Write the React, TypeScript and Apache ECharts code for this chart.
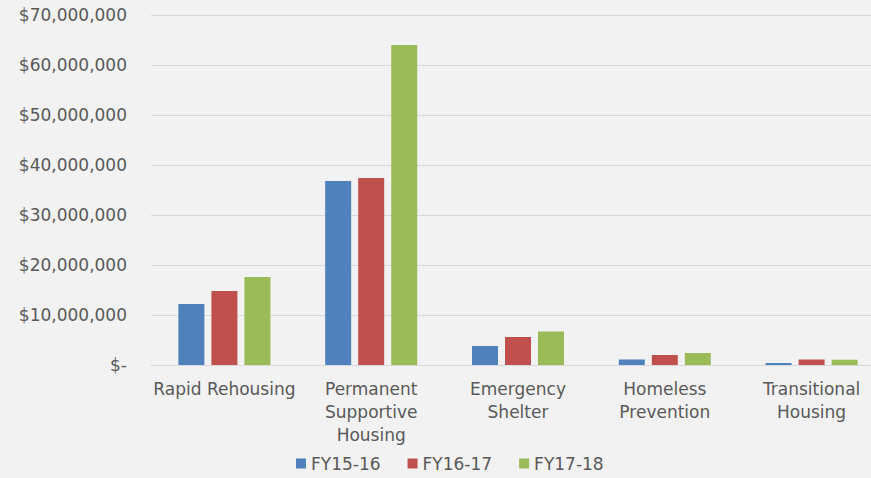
import React, { useEffect, useRef } from "react";
import * as echarts from "echarts";

const categories = [
  "Rapid Rehousing",
  "Permanent\nSupportive\nHousing",
  "Emergency\nShelter",
  "Homeless\nPrevention",
  "Transitional\nHousing",
];
const seriesNames = ["FY15-16", "FY16-17", "FY17-18"];
const fy1516 = [12200000, 36800000, 3800000, 1100000, 400000];
const fy1617 = [14800000, 37400000, 5600000, 2000000, 1100000];
const fy1718 = [17600000, 64000000, 6700000, 2400000, 1050000];
const colors = ["#4f81bd", "#c0504d", "#9bbb59"];

function fmt(v: number): string {
  if (v === 0) return "$-";
  return "$" + v.toLocaleString("en-US");
}

export default function App() {
  const ref = useRef<HTMLDivElement>(null);
  useEffect(() => {
    if (!ref.current) return;
    const chart = echarts.init(ref.current, undefined, { renderer: "svg" });
    const font = "'DejaVu Sans', sans-serif";
    const data = [fy1516, fy1617, fy1718];
    chart.setOption({
      animation: false,
      backgroundColor: "#f2f2f2",
      textStyle: { fontFamily: font },
      grid: {
        left: 151,
        width: 734,
        top: 15,
        height: 350,
        containLabel: false,
        outerBoundsMode: "none",
      },
      legend: {
        top: 450,
        left: 291,
        itemWidth: 10,
        itemHeight: 10,
        itemGap: 27,
        icon: "rect",
        textStyle: { color: "#595959", fontSize: 17, fontFamily: font },
        data: seriesNames,
      },
      xAxis: {
        type: "category",
        data: categories,
        axisLine: { lineStyle: { color: "#d9d9d9", width: 1 } },
        axisTick: { show: false },
        axisLabel: {
          color: "#595959",
          fontSize: 17,
          lineHeight: 23,
          margin: 12,
          interval: 0,
          fontFamily: font,
        },
      },
      yAxis: {
        type: "value",
        min: 0,
        max: 70000000,
        interval: 10000000,
        axisLine: { show: false },
        axisTick: { show: false },
        splitLine: { lineStyle: { color: "#d9d9d9", width: 1 } },
        axisLabel: {
          color: "#595959",
          fontSize: 17,
          margin: 24,
          fontFamily: font,
          formatter: (v: number) => fmt(v),
        },
      },
      series: seriesNames.map((name, i) => ({
        name,
        type: "bar",
        data: data[i],
        barWidth: 26,
        barGap: "27%",
        itemStyle: { color: colors[i] },
      })),
    });
    return () => chart.dispose();
  }, []);
  return <div ref={ref} style={{ width: 871, height: 478, position: "absolute", left: 0, top: 0 }} />;
}
